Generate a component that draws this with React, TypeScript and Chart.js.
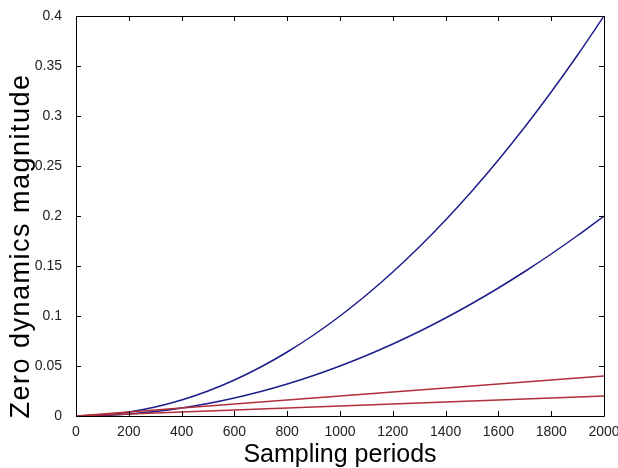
import React, { useEffect, useRef } from "react";
import { Chart, registerables } from "chart.js";

Chart.register(...registerables);

const periods = [0, 100, 200, 300, 400, 500, 600, 700, 800, 900, 1000, 1100, 1200, 1300, 1400, 1500, 1600, 1700, 1800, 1900, 2000];
const blueUpper = [0, 0.001, 0.004, 0.009, 0.016, 0.025, 0.036, 0.049, 0.064, 0.081, 0.1, 0.121, 0.144, 0.169, 0.196, 0.225, 0.256, 0.289, 0.324, 0.361, 0.4];
const blueLower = [0, 0.0005, 0.002, 0.0045, 0.008, 0.0125, 0.018, 0.0245, 0.032, 0.0405, 0.05, 0.0605, 0.072, 0.0845, 0.098, 0.1125, 0.128, 0.1445, 0.162, 0.1805, 0.2];
const redUpper = [0, 0.002, 0.004, 0.006, 0.008, 0.01, 0.012, 0.014, 0.016, 0.018, 0.02, 0.022, 0.024, 0.026, 0.028, 0.03, 0.032, 0.034, 0.036, 0.038, 0.04];
const redLower = [0, 0.001, 0.002, 0.003, 0.004, 0.005, 0.006, 0.007, 0.008, 0.009, 0.01, 0.011, 0.012, 0.013, 0.014, 0.015, 0.016, 0.017, 0.018, 0.019, 0.02];

const xTitle = "Sampling periods";
const yTitle = "Zero dynamics magnitude";

const BLUE = "#1e1e8c";
const RED = "#b0303a";
const FONT = "'Liberation Sans', Arial, sans-serif";

const toPoints = (ys: number[]) => periods.map((x, i) => ({ x, y: ys[i] }));

const boxPlugin = {
  id: "matlabBox",
  afterDraw(chart: any) {
    const { ctx, chartArea } = chart;
    const { left, right, top, bottom } = chartArea;
    const tl = 5;
    ctx.save();
    ctx.strokeStyle = "#000";
    ctx.lineWidth = 1;
    ctx.beginPath();
    ctx.rect(Math.round(left) + 0.5, Math.round(top) + 0.5, Math.round(right - left), Math.round(bottom - top));
    const xs = chart.scales.x;
    xs.ticks.forEach((t: any) => {
      const px = Math.round(xs.getPixelForValue(t.value)) + 0.5;
      ctx.moveTo(px, bottom);
      ctx.lineTo(px, bottom - tl);
      ctx.moveTo(px, top);
      ctx.lineTo(px, top + tl);
    });
    const ys = chart.scales.y;
    ys.ticks.forEach((t: any) => {
      const py = Math.round(ys.getPixelForValue(t.value)) + 0.5;
      ctx.moveTo(left, py);
      ctx.lineTo(left + tl, py);
      ctx.moveTo(right, py);
      ctx.lineTo(right - tl, py);
    });
    ctx.stroke();

    ctx.fillStyle = "#000";
    ctx.textAlign = "center";
    ctx.textBaseline = "middle";
    ctx.font = `25px ${FONT}`;
    ctx.fillText(xTitle, (left + right) / 2, bottom + 39);
    ctx.translate(22, (top + bottom) / 2 + 30);
    ctx.rotate(-Math.PI / 2);
    ctx.font = `27px ${FONT}`;
    try { (ctx as any).letterSpacing = "1.5px"; } catch (e) { /* ignore */ }
    ctx.fillText(yTitle, 0, 0);
    ctx.restore();
  },
};

export default function App() {
  const ref = useRef<HTMLCanvasElement | null>(null);
  useEffect(() => {
    if (!ref.current) return;
    const chart = new Chart(ref.current, {
      type: "line",
      data: {
        datasets: [
          { data: toPoints(redUpper), borderColor: RED, borderWidth: 1.4, pointRadius: 0, fill: false },
          { data: toPoints(redLower), borderColor: RED, borderWidth: 1.4, pointRadius: 0, fill: false },
          { data: toPoints(blueUpper), borderColor: BLUE, borderWidth: 1.5, pointRadius: 0, fill: false, cubicInterpolationMode: "monotone" },
          { data: toPoints(blueLower), borderColor: BLUE, borderWidth: 1.5, pointRadius: 0, fill: false, cubicInterpolationMode: "monotone" },
        ],
      },
      options: {
        responsive: false,
        animation: false,
        layout: { padding: { top: 16, right: 14, left: 0, bottom: 0 } },
        plugins: { legend: { display: false }, tooltip: { enabled: false } },
        scales: {
          x: {
            type: "linear",
            min: 0,
            max: 2000,
            grid: { display: false },
            border: { display: false },
            ticks: {
              stepSize: 200,
              font: { size: 14, family: FONT },
              color: "#222",
              padding: 0,
              maxRotation: 0,
              autoSkip: false,
              callback: (v: any) => String(v),
            },
            afterFit: (s: any) => { s.height = 52; s.paddingRight = 0; s.paddingLeft = 0; },
          },
          y: {
            min: 0,
            max: 0.4,
            grid: { display: false },
            border: { display: false },
            ticks: {
              stepSize: 0.05,
              font: { size: 14, family: FONT },
              color: "#222",
              padding: 6,
              callback: (v: any) => String(Number(Number(v).toFixed(2))),
            },
            afterFit: (s: any) => { s.width = 76; s.paddingTop = 0; s.paddingBottom = 0; },
          },
        },
      },
      plugins: [boxPlugin],
    } as any);
    return () => chart.destroy();
  }, []);
  return (
    <canvas
      ref={ref}
      width={618}
      height={468}
      style={{ position: "absolute", left: 0, top: 0, width: 618, height: 468, background: "#fff" }}
    />
  );
}
